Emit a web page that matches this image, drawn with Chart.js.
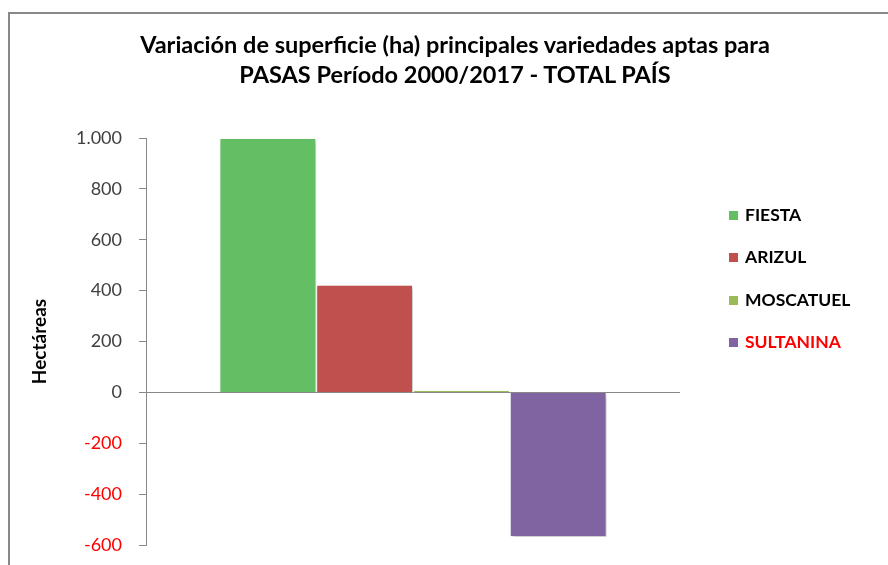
<!DOCTYPE html>
<html lang="es">
<head>
    <meta charset="UTF-8">
    <title>Variación de superficie - PASAS</title>
    <style>
        html, body { margin: 0; padding: 0; background: #fff; }
        .marco {
            position: relative;
            width: 888px;
            height: 565px;
            overflow: hidden;
        }
        .borde {
            position: absolute;
            left: 8px; top: 12px;
            width: 900px; height: 600px;
            border-left: 2px solid #888;
            border-top: 2px solid #888;
        }
        canvas { position: absolute; left: 0; top: 0; }
        .titulo {
            position: absolute;
            left: 10px; width: 890px; top: 29px;
            text-align: center;
            font-family: Lato, "Open Sans", sans-serif;
            font-weight: bold;
            font-size: 23.5px;
            line-height: 30px;
            color: #000;
        }
        .leyenda {
            position: absolute;
            left: 729px; top: 204px;
            font-family: Lato, "Open Sans", sans-serif;
            font-weight: bold;
            font-size: 17.5px;
        }
        .leyenda div { height: 42.3px; display: flex; align-items: flex-start; line-height: 22px; }
        .leyenda span.caja { width: 9px; height: 9px; margin: 7px 7px 0 0; display: inline-block; flex: none; }
    </style>
</head>
<body>
<div class="marco">
    <div class="borde"></div>
    <canvas id="grafico" width="888" height="565"></canvas>
    <div class="titulo" id="titulo"></div>
    <div class="leyenda" id="leyenda"></div>
</div>

<script src="https://cdn.jsdelivr.net/npm/chart.js"></script>
<script>
    // Datos
    const titulo = ['Variación de superficie (ha) principales variedades aptas para',
                    'PASAS Período 2000/2017 - TOTAL PAÍS'];
    const categorias = ['Variedades'];
    const variedades = ['FIESTA', 'ARIZUL', 'MOSCATUEL', 'SULTANINA'];
    const variacion = [1000, 423, 8, -569];
    const colores = ['#64BE64', '#C0504D', '#9BBB59', '#8064A2'];
    const coloresTexto = ['#000000', '#000000', '#000000', '#FF0000'];
    const ticksY = [-600, -400, -200, 0, 200, 400, 600, 800, 1000];

    document.getElementById('titulo').innerHTML = titulo.join('<br>');

    const datasets = variedades.map((nombre, i) => ({
        label: nombre,
        data: [variacion[i]],
        backgroundColor: colores[i],
        borderColor: '#ffffff',
        borderWidth: 1
    }));

    // Sombra suave de las barras
    const sombra = {
        id: 'sombra',
        beforeDatasetsDraw(chart) {
            const c = chart.ctx;
            c.save();
            c.shadowColor = 'rgba(0,0,0,0.25)';
            c.shadowBlur = 4;
            c.shadowOffsetX = 2;
            c.shadowOffsetY = 2;
        },
        afterDatasetsDraw(chart) {
            chart.ctx.restore();
        }
    };

    const ctx = document.getElementById('grafico').getContext('2d');
    new Chart(ctx, {
        type: 'bar',
        data: { labels: categorias, datasets: datasets },
        plugins: [sombra],
        options: {
            responsive: false,
            animation: false,
            layout: { padding: { left: 22, right: 208, bottom: 20, top: 138 } },
            datasets: { bar: { categoryPercentage: 0.725, barPercentage: 1 } },
            scales: {
                x: { display: false },
                y: {
                    min: -600,
                    max: 1000,
                    afterBuildTicks(scale) {
                        scale.ticks = ticksY.map(v => ({ value: v }));
                    },
                    afterFit(scale) {
                        scale.width = 124;
                        scale.paddingTop = 0;
                        scale.paddingBottom = 0;
                    },
                    border: { color: '#888888', width: 1 },
                    grid: {
                        color: c => c.tick && c.tick.value === 0 ? '#888888' : 'rgba(0,0,0,0)',
                        tickColor: '#888888',
                        tickLength: 7,
                        lineWidth: 1
                    },
                    ticks: {
                        padding: 17,
                        font: { family: 'Lato', size: 18 },
                        color: c => c.tick.value < 0 ? '#FF0000' : '#404040',
                        callback: v => v.toLocaleString('es-AR')
                    },
                    title: {
                        display: true,
                        text: 'Hectáreas',
                        color: '#000000',
                        font: { family: 'Lato', size: 19, weight: 'bold' },
                        padding: { top: 6, bottom: 0 }
                    }
                }
            },
            plugins: {
                legend: { display: false },
                tooltip: { enabled: false },
                title: { display: false }
            }
        }
    });

    // Leyenda a la derecha
    const leyenda = document.getElementById('leyenda');
    variedades.forEach((nombre, i) => {
        const fila = document.createElement('div');
        fila.innerHTML = '<span class="caja" style="background:' + colores[i] + '"></span>' +
            '<span style="color:' + coloresTexto[i] + '">' + nombre + '</span>';
        leyenda.appendChild(fila);
    });
</script>
</body>
</html>
